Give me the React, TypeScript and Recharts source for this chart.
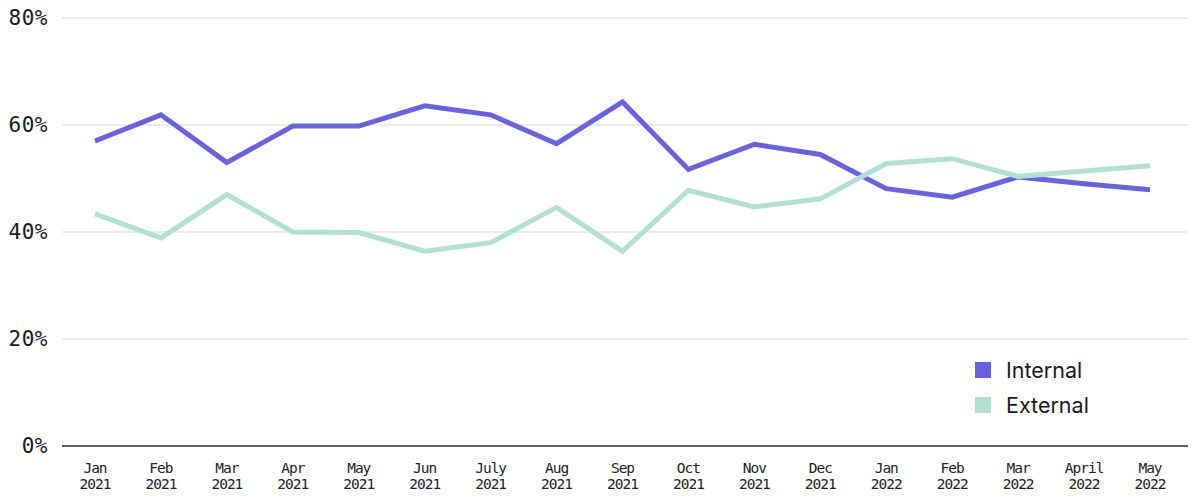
import { CartesianGrid, Line, LineChart, XAxis, YAxis } from "recharts";

const months = [
	"Jan", "Feb", "Mar", "Apr", "May", "Jun", "July", "Aug", "Sep",
	"Oct", "Nov", "Dec", "Jan", "Feb", "Mar", "April", "May",
];
const years = [
	"2021", "2021", "2021", "2021", "2021", "2021", "2021", "2021", "2021",
	"2021", "2021", "2021", "2022", "2022", "2022", "2022", "2022",
];
const internal = [57.0, 61.9, 53.0, 59.8, 59.8, 63.6, 61.9, 56.5, 64.3, 51.7, 56.4, 54.5, 48.1, 46.5, 50.3, 49.0, 47.9];
const external = [43.4, 38.9, 47.0, 40.0, 39.9, 36.4, 38.0, 44.6, 36.4, 47.8, 44.7, 46.2, 52.8, 53.7, 50.4, 51.4, 52.4];
const yTicks = [0, 20, 40, 60, 80];

const INTERNAL_COLOR = "#6762e2";
const EXTERNAL_COLOR = "#b1dfd2";

const data = months.map((m, i) => ({
	key: `${m} ${years[i]}`,
	internal: internal[i],
	external: external[i],
}));

const MonthTick = ({ x, y, payload }: any) => {
	const [m, yr] = String(payload.value).split(" ");
	return (
		<g transform={`translate(${x},${y})`}>
			<text textAnchor="middle" fill="#222" fontSize={14.5} fontFamily="'DejaVu Sans Mono', monospace" letterSpacing={-1}>
				<tspan x={0} dy={19}>{m}</tspan>
				<tspan x={0} dy={16}>{yr}</tspan>
			</text>
		</g>
	);
};

const LegendBox = () => (
	<div
		style={{
			position: "absolute",
			left: 975,
			top: 352,
			fontFamily: "Inter, 'Noto Sans', sans-serif",
			fontSize: 21.5,
			color: "#1a1a1a",
		}}
	>
		{[
			{ name: "Internal", color: INTERNAL_COLOR },
			{ name: "External", color: EXTERNAL_COLOR },
		].map((item) => (
			<div key={item.name} style={{ display: "flex", alignItems: "center", height: 35 }}>
				<span style={{ width: 16, height: 16, background: item.color, marginRight: 15 }} />
				<span>{item.name}</span>
			</div>
		))}
	</div>
);

export default function App() {
	return (
		<div style={{ position: "relative", background: "#fff", width: 1200, height: 503 }}>
			<style>{`body{margin:0}`}</style>
			<LineChart width={1200} height={503} data={data} margin={{ top: 18, right: 12, bottom: 7, left: 0 }}>
				<CartesianGrid vertical={false} stroke="#dadada" strokeWidth={1.2} />
				<XAxis
					dataKey="key"
					interval={0}
					tickLine={false}
					axisLine={{ stroke: "#2b2b2b", strokeWidth: 1.5 }}
					padding={{ left: 33, right: 38 }}
					height={50}
					tick={<MonthTick />}
				/>
				<YAxis
					domain={[0, 80]}
					ticks={yTicks}
					width={62}
					tickLine={false}
					axisLine={false}
					tickMargin={8}
					tickFormatter={(v) => `${v}%`}
					tick={{ fill: "#1a1a1a", fontSize: 21, fontFamily: "'DejaVu Sans Mono', monospace", letterSpacing: 0.5 }}
				/>
				<Line dataKey="internal" name="Internal" stroke={INTERNAL_COLOR} strokeWidth={5} dot={false} isAnimationActive={false} />
				<Line dataKey="external" name="External" stroke={EXTERNAL_COLOR} strokeWidth={5} dot={false} isAnimationActive={false} />
			</LineChart>
			<LegendBox />
		</div>
	);
}
